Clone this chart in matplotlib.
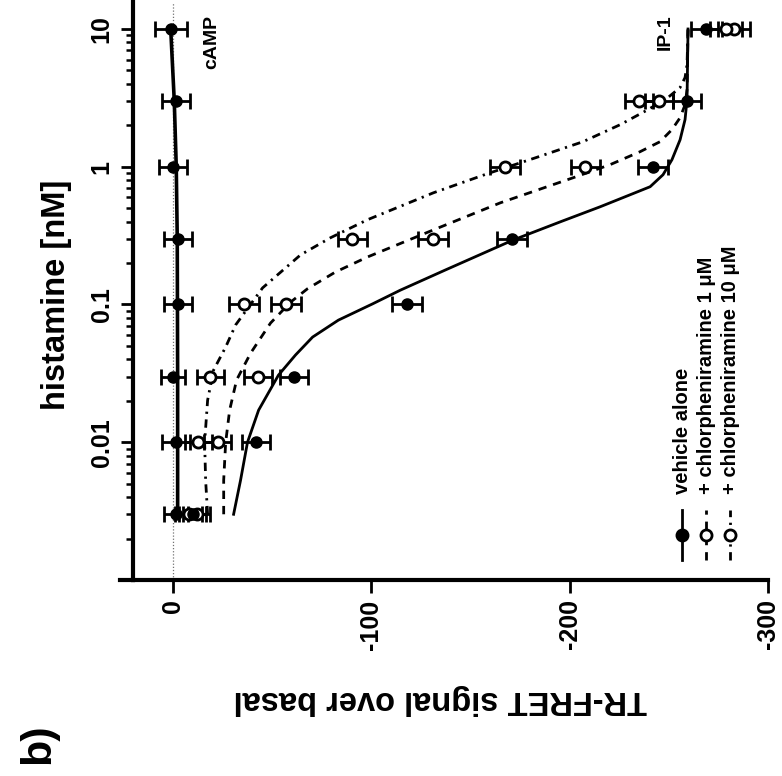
import numpy as np
import matplotlib
matplotlib.use("Agg")
import matplotlib.pyplot as plt
from matplotlib.lines import Line2D
from matplotlib.ticker import FixedLocator, LogLocator, NullFormatter

plt.rcParams['font.family'] = ['Liberation Sans', 'DejaVu Sans']
plt.rcParams['font.weight'] = 'bold'

# histamine concentrations (nM)
conc = [0.003, 0.01, 0.03, 0.1, 0.3, 1, 3, 10]

# cAMP readout (vehicle)
camp_vals = [-1.5, -1.5, 0, -2.5, -2.5, 0, -1.5, 1]
camp_err = [6, 7, 6, 7, 7, 7, 7, 8]
camp_fit_conc = [0.003, 0.03, 0.3, 1, 3, 10]
camp_fit_vals = [-2.5, -2.5, -2.3, -1.8, -0.8, 1.0]

# IP-1 readout
ip1_vehicle = [-10, -42, -61, -118, -171, -242, -259, -269]
ip1_chlor1 = [-12, -22.6, -43, -57, -131, -208, -245, -279]
ip1_chlor10 = [-8, -13, -19, -36, -90.6, -167.6, -235, -283]
ip1_err = [7, 7, 7, 7.5, 7.5, 7.5, 7, 8]

# fitted curves
fit_vehicle_conc = [0.003, 0.0053, 0.01, 0.0171, 0.0307, 0.043, 0.058, 0.077, 0.101, 0.127, 0.178,
                    0.294, 0.398, 0.512, 0.647, 0.716, 0.875, 1.125, 1.57, 2.2, 3.07, 10]
fit_vehicle_vals = [-30.7, -34.2, -37.7, -43.3, -53.3, -61.9, -70.5, -83.5, -100.7, -114.7, -137.4,
                    -171.6, -195.3, -215.4, -233.0, -240.6, -247.1, -251.6, -255.7, -258.2, -259.2, -259.7]
fit_chlor1_conc = [0.003, 0.0053, 0.01, 0.0171, 0.0283, 0.0444, 0.0733, 0.104, 0.130, 0.172, 0.221,
                   0.348, 0.547, 0.832, 1.035, 1.285, 1.52, 1.86, 2.27, 2.82, 3.63, 10]
fit_chlor1_vals = [-25.7, -25.7, -26.7, -28.7, -32.2, -39.3, -49.3, -59.4, -67.9, -82.0, -98.1,
                   -131.4, -165.1, -201.8, -220.4, -235.5, -245.6, -251.6, -255.7, -258.2, -259.2, -259.7]
fit_chlor10_conc = [0.003, 0.0053, 0.01, 0.0202, 0.0334, 0.0491, 0.071, 0.132, 0.229, 0.305, 0.412,
                    0.647, 0.889, 1.16, 1.52, 2.02, 2.6, 3.18, 3.76, 4.44, 5.52, 10]
fit_chlor10_vals = [-17.6, -16.6, -16.1, -17.6, -20.6, -26.7, -31.7, -45.3, -64.4, -79.5, -98.1,
                    -131.4, -158.5, -182.7, -206.8, -225.5, -239.6, -249.6, -255.7, -258.2, -259.2, -259.7]

legend_labels = ['vehicle alone', '+ chlorpheniramine 1 \u03bcM', '+ chlorpheniramine 10 \u03bcM']

W, H = 782, 776
fig = plt.figure(figsize=(W / 100, H / 100), dpi=100)
ax = fig.add_axes([133 / W, 1 - 580 / H, (768 - 133) / W, (580 - 2) / H])

ax.axvline(0, color='0.45', lw=0.9, ls=(0, (1, 1.5)), zorder=1)

# fit lines
ax.plot(camp_fit_vals, camp_fit_conc, color='black', lw=2.6, zorder=2)
ax.plot(fit_vehicle_vals, fit_vehicle_conc, color='black', lw=2.0, zorder=2)
ax.plot(fit_chlor1_vals, fit_chlor1_conc, color='black', lw=2.0, ls=(0, (3, 2.5)), zorder=2)
ax.plot(fit_chlor10_vals, fit_chlor10_conc, color='black', lw=2.0, ls=(0, (3, 2, 0.8, 2)), zorder=2)

eb = dict(ecolor='black', elinewidth=2.0, capsize=6, capthick=2.0, ls='none', zorder=3)
ax.errorbar(camp_vals, conc, xerr=camp_err, fmt='o', ms=8, mfc='black', mec='black', **eb)
ax.errorbar(ip1_chlor10, conc, xerr=ip1_err, fmt='o', ms=8, mfc='white', mec='black', mew=2.0, **eb)
ax.errorbar(ip1_chlor1, conc, xerr=ip1_err, fmt='o', ms=8, mfc='white', mec='black', mew=2.0, **eb)
ax.errorbar(ip1_vehicle, conc, xerr=ip1_err, fmt='o', ms=8, mfc='black', mec='black', **eb)

ax.set_yscale('log')
ax.set_ylim(0.001, 15.7)
ax.set_xlim(20, -300)

ax.yaxis.set_major_locator(FixedLocator([0.001, 0.01, 0.1, 1, 10]))
ax.set_yticklabels(['', '0.01', '0.1', '1', '10'], rotation=90, va='center', fontsize=18, fontweight='bold')
ax.yaxis.set_minor_locator(LogLocator(base=10, subs=np.arange(2, 10)))
ax.yaxis.set_minor_formatter(NullFormatter())

ax.set_xticks([0, -100, -200, -300])
ax.set_xticklabels(['0', '-100', '-200', '-300'], rotation=90, fontsize=18, fontweight='bold')

for s in ['top', 'right']:
    ax.spines[s].set_visible(False)
for s in ['left', 'bottom']:
    ax.spines[s].set_linewidth(3)
ax.tick_params(axis='both', which='major', direction='out', length=9, width=2, pad=5)
ax.tick_params(axis='y', which='minor', direction='out', length=5, width=1.8)

# bottom spine sticks out a bit to the left
ax.add_line(Line2D([-0.02, 0], [0, 0], transform=ax.transAxes, color='black', lw=3, clip_on=False))

ax.text(212 / W, 1 - 42 / H, 'cAMP', transform=fig.transFigure, rotation=90, ha='center', va='center', fontsize=14, fontweight='bold')
ax.text(665 / W, 1 - 32 / H, 'IP-1', transform=fig.transFigure, rotation=90, ha='center', va='center', fontsize=14, fontweight='bold')

fig.text(56 / W, 1 - 295 / H, 'histamine [nM]', rotation=90, ha='center', va='center', fontsize=23.5, fontweight='bold')
fig.text(440 / W, 1 - 700 / H, 'TR-FRET signal over basal', rotation=180, ha='center', va='center', fontsize=23.5, fontweight='bold')
fig.text(38 / W, 1 - 744 / H, 'b)', rotation=90, ha='center', va='center', fontsize=31, fontweight='bold')

# legend drawn by hand, rotated like the rest
leg_x = [682, 706, 730]
leg_styles = ['-', (0, (3, 2.5)), (0, (3, 2, 0.8, 2))]
leg_fill = ['black', 'white', 'white']
for lx, lab, st, fc in zip(leg_x, legend_labels, leg_styles, leg_fill):
    xf = lx / W
    fig.add_artist(Line2D([xf, xf], [1 - 560 / H, 1 - 510 / H], transform=fig.transFigure, color='black', lw=2.0, ls=st))
    fig.add_artist(Line2D([xf], [1 - 535 / H], transform=fig.transFigure, marker='o', ms=8, mfc=fc, mec='black', mew=2.0, ls='none'))
    fig.text(xf, 1 - 494 / H, lab, rotation=90, ha='center', va='bottom', fontsize=14.5, fontweight='bold')

fig.savefig('out.png', dpi=100)
